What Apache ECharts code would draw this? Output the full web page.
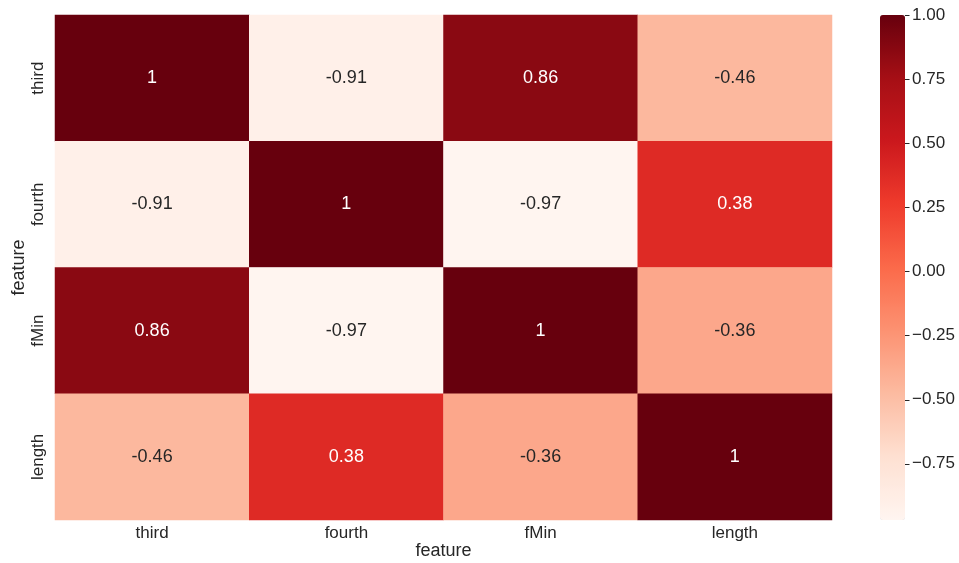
<!DOCTYPE html>
<html>
<head>
<meta charset="utf-8">
<script src="https://cdn.jsdelivr.net/npm/echarts@6/dist/echarts.min.js"></script>
<style>
  html, body { margin: 0; padding: 0; background: #fff; }
  #chart { width: 959px; height: 563px; }
</style>
</head>
<body>
<div id="chart"></div>
<script>
// Correlation matrix between features
const features = ['third', 'fourth', 'fMin', 'length'];
const rowThird  = [1, -0.91, 0.86, -0.46];
const rowFourth = [-0.91, 1, -0.97, 0.38];
const rowFMin   = [0.86, -0.97, 1, -0.36];
const rowLength = [-0.46, 0.38, -0.36, 1];
const colorbarTicks = [-0.75, -0.5, -0.25, 0, 0.25, 0.5, 0.75, 1.0];
const valueMin = -0.97;
const valueMax = 1.0;

const rows = [rowThird, rowFourth, rowFMin, rowLength];

// matplotlib "Reds" colormap stops
const reds = ['#fff5f0', '#fee0d2', '#fcbba1', '#fc9272', '#fb6a4a',
              '#ef3b2c', '#cb181d', '#a50f15', '#67000d'];

const FONT = "'Liberation Sans', Arial, sans-serif";
const TEXT = '#262626';

const cells = [];
rows.forEach((row, r) => {
  row.forEach((v, c) => {
    cells.push({
      value: [c, r, v],
      label: { color: v > 0 ? '#ffffff' : TEXT }
    });
  });
});

const chart = echarts.init(document.getElementById('chart'), null, { renderer: 'canvas' });

chart.setOption({
  backgroundColor: '#ffffff',
  animation: false,
  grid: [
    { left: 55, top: 15, width: 777, height: 505, containLabel: false, outerBoundsMode: 'none' },
    { left: 880, top: 15, width: 25, height: 505, containLabel: false, outerBoundsMode: 'none' }
  ],
  xAxis: [
    {
      type: 'category', gridIndex: 0, data: features,
      name: 'feature', nameLocation: 'middle', nameGap: 22, nameMoveOverlap: false,
      nameTextStyle: { fontFamily: FONT, fontSize: 18, color: TEXT },
      axisLine: { show: false }, axisTick: { show: false }, splitLine: { show: false },
      axisLabel: { fontFamily: FONT, fontSize: 17, color: TEXT, margin: 5 }
    },
    { type: 'value', gridIndex: 1, show: false, min: 0, max: 1 }
  ],
  yAxis: [
    {
      type: 'category', gridIndex: 0, data: features, inverse: true,
      name: 'feature', nameLocation: 'middle', nameGap: 27, nameRotate: 90, nameMoveOverlap: false,
      nameTextStyle: { fontFamily: FONT, fontSize: 18, color: TEXT },
      axisLine: { show: false }, axisTick: { show: false }, splitLine: { show: false },
      axisLabel: { fontFamily: FONT, fontSize: 17, color: TEXT, rotate: 90, margin: 8 }
    },
    {
      type: 'value', gridIndex: 1, position: 'right',
      min: valueMin, max: valueMax,
      axisLine: { show: false }, splitLine: { show: false }, axisTick: { show: false },
      axisLabel: {
        fontFamily: FONT, fontSize: 17, color: TEXT, margin: 7,
        customValues: colorbarTicks,
        formatter: v => (v < 0 ? '\u2212' : '') + Math.abs(v).toFixed(2)
      }
    }
  ],
  visualMap: {
    type: 'continuous', seriesIndex: 0,
    min: valueMin, max: valueMax,
    calculable: false, realtime: false,
    orient: 'vertical', left: 880, top: 15, padding: 0,
    itemWidth: 25, itemHeight: 505,
    text: null, showLabel: false,
    inRange: { color: reds }
  },
  series: [
    {
      type: 'heatmap', xAxisIndex: 0, yAxisIndex: 0,
      data: cells,
      label: {
        show: true, fontFamily: FONT, fontSize: 18,
        formatter: p => String(p.value[2])
      },
      itemStyle: { borderWidth: 0 },
      emphasis: { disabled: true }
    },
    {
      // colorbar tick marks on the right edge of the bar
      type: 'custom', xAxisIndex: 1, yAxisIndex: 1, clip: false, silent: true,
      data: colorbarTicks.map(v => [1, v]),
      renderItem: (params, api) => {
        const p = api.coord([api.value(0), api.value(1)]);
        const y = Math.round(p[1]) + 0.5;
        return {
          type: 'line',
          shape: { x1: p[0], y1: y, x2: p[0] + 4.5, y2: y },
          style: { stroke: TEXT, lineWidth: 1 }
        };
      }
    }
  ]
});
</script>
</body>
</html>
